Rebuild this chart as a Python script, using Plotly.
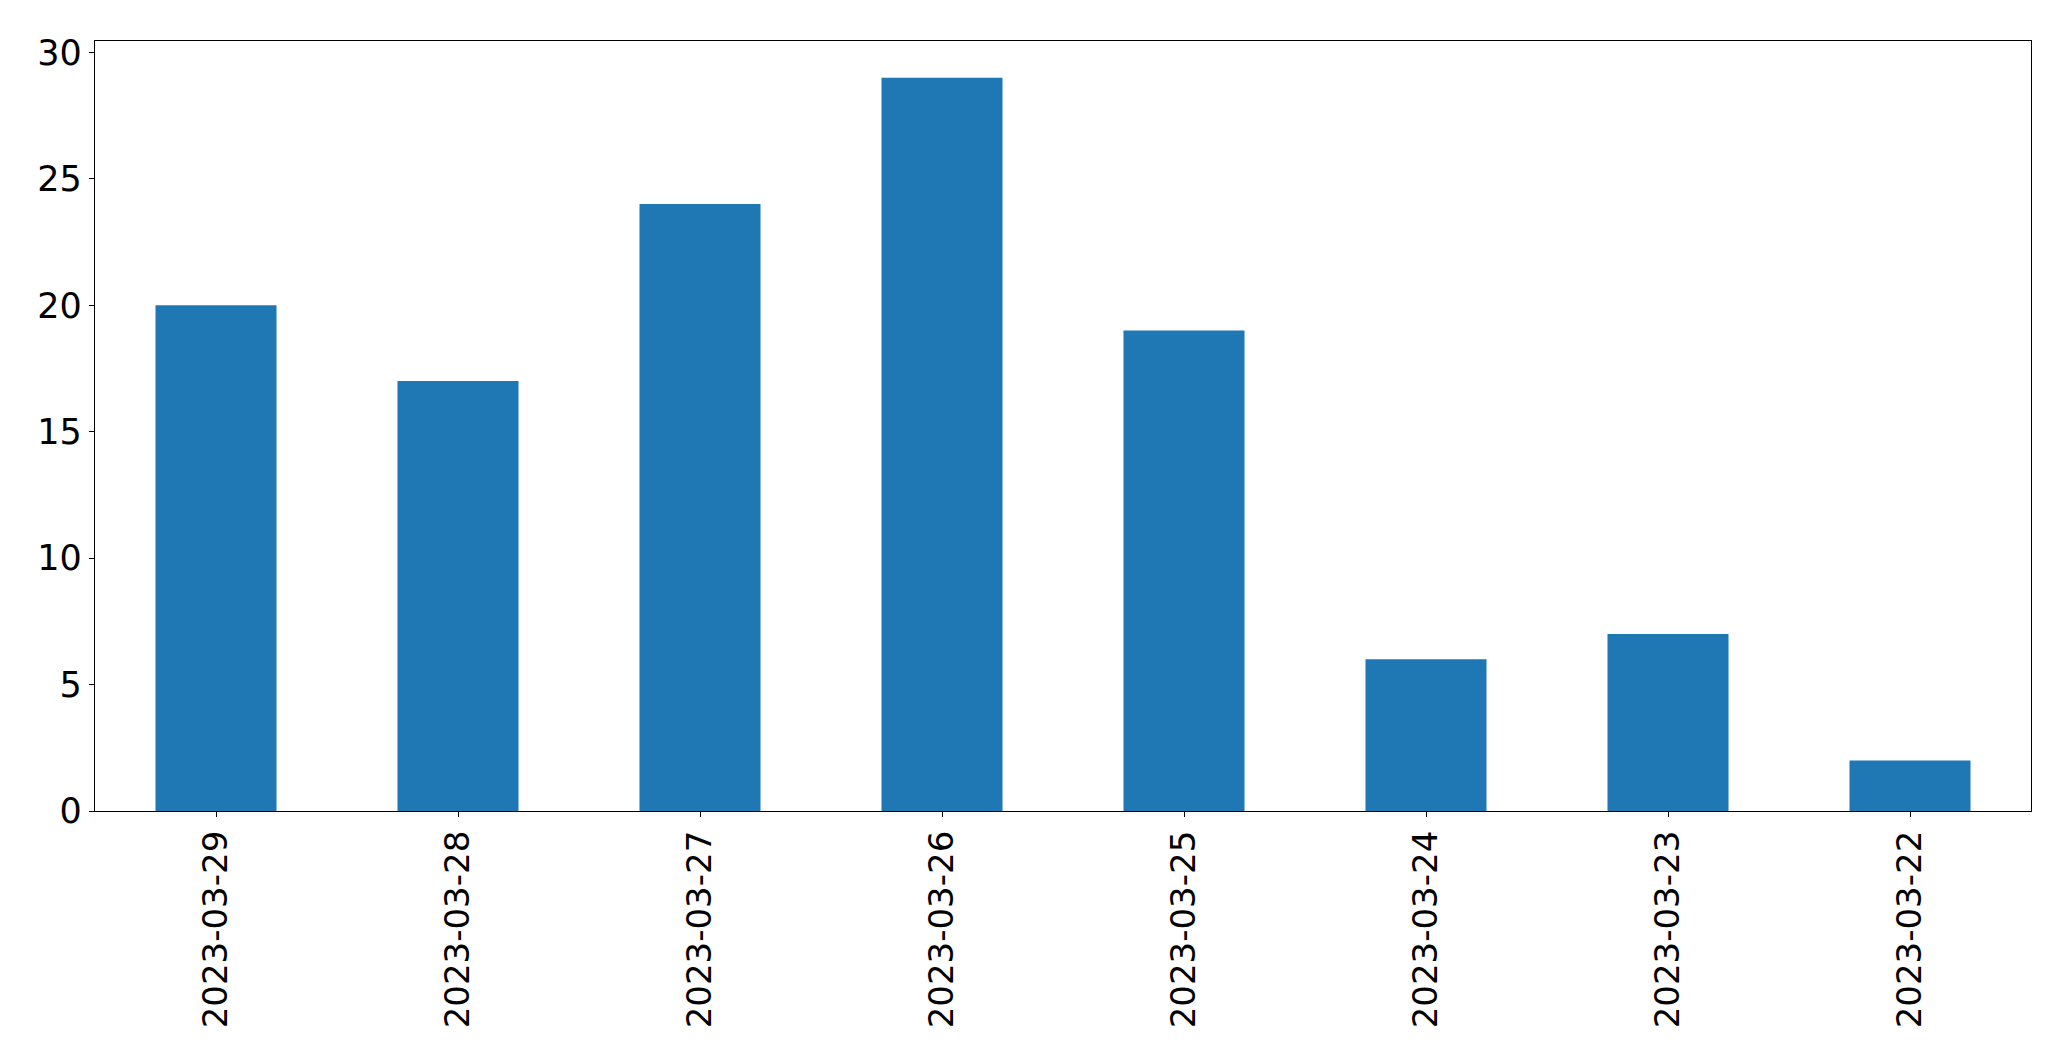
import plotly.graph_objects as go

dates = ["2023-03-29", "2023-03-28", "2023-03-27", "2023-03-26",
         "2023-03-25", "2023-03-24", "2023-03-23", "2023-03-22"]
counts = [20, 17, 24, 29, 19, 6, 7, 2]

fig = go.Figure(go.Bar(x=dates, y=counts, width=0.5, marker=dict(color="#1f77b4", line=dict(width=0))))

xfont = dict(family="DejaVu Sans", size=34, color="black")
yfont = dict(family="DejaVu Sans", size=35, color="black")
fig.update_layout(
    width=2071, height=1063,
    margin=dict(l=87, r=48, t=33, b=260),
    plot_bgcolor="white", paper_bgcolor="white",
    showlegend=False,
    font=yfont,
)
fig.update_xaxes(
    type="category", range=[-0.5, 7.5], tickangle=-90,
    showline=True, linecolor="black", linewidth=1.3, mirror=True,
    ticks="outside", ticklen=5, tickcolor="black", tickwidth=1.3,
    showgrid=False, tickfont=xfont,
)
fig.update_yaxes(
    range=[0, 30.45], tickvals=[0, 5, 10, 15, 20, 25, 30],
    showline=True, linecolor="black", linewidth=1.3, mirror=True,
    ticks="outside", ticklen=5, tickcolor="black", tickwidth=1.3,
    showgrid=False, zeroline=False, tickfont=yfont,
)
fig.write_html("out.html")
